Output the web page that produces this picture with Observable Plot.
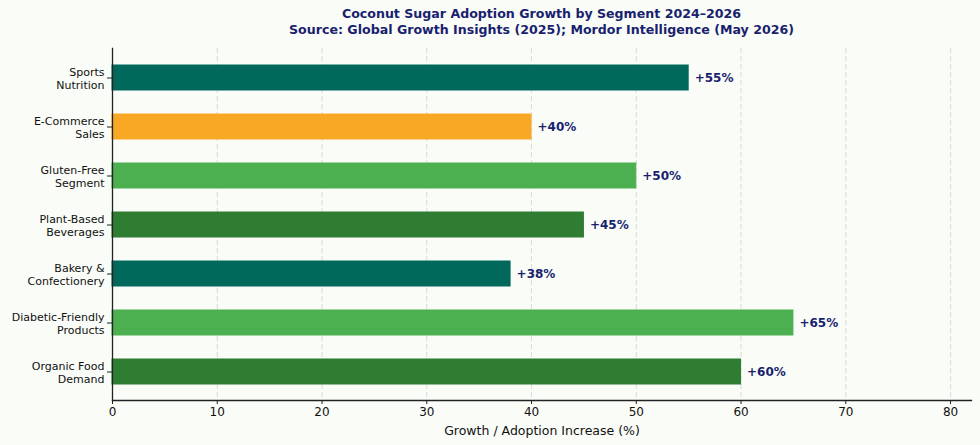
<!DOCTYPE html>
<html>
<head>
<meta charset="utf-8">
<script src="https://cdn.jsdelivr.net/npm/d3@7"></script>
<script src="https://cdn.jsdelivr.net/npm/@observablehq/plot@0.6"></script>
<style>
  html, body { margin: 0; padding: 0; background: #f9fcf7; }
  body { width: 980px; height: 445px; overflow: hidden; font-family: "DejaVu Sans", sans-serif; }
  #title { margin-left: 112px; width: 859px; height: 40px; box-sizing: border-box; padding-top: 6px;
           text-align: center; font-weight: bold; font-size: 12.6px; line-height: 16px; color: #1a1f6e; }
  #chart svg { display: block; }
</style>
</head>
<body>
<div id="title">Coconut Sugar Adoption Growth by Segment 2024–2026<br>Source: Global Growth Insights (2025); Mordor Intelligence (May 2026)</div>
<div id="chart"></div>
<script>
const categories = [
  "Organic Food\nDemand",
  "Diabetic-Friendly\nProducts",
  "Bakery &\nConfectionery",
  "Plant-Based\nBeverages",
  "Gluten-Free\nSegment",
  "E-Commerce\nSales",
  "Sports\nNutrition"
];
const values = [60, 65, 38, 45, 50, 40, 55];
const barColors = ["#2e7d32", "#4caf50", "#00695c", "#2e7d32", "#4caf50", "#f9a825", "#00695c"];
const xTicks = [0, 10, 20, 30, 40, 50, 60, 70, 80];
const xTitle = "Growth / Adoption Increase (%)";

const data = categories.map((c, i) => ({cat: c, value: values[i], color: barColors[i]}));

const chart = Plot.plot({
  width: 980,
  height: 405,
  marginTop: 8,
  marginBottom: 45,
  marginLeft: 112,
  marginRight: 9,
  style: {background: "transparent", fontFamily: "DejaVu Sans, sans-serif", color: "#111"},
  x: {domain: [0, 82]},
  y: {domain: categories.slice().reverse(), paddingInner: 0.5, paddingOuter: 0.34},
  color: {type: "identity"},
  marks: [
    Plot.gridX({ticks: xTicks.slice(1), stroke: "#c8c8c8", strokeOpacity: 0.8, strokeDasharray: "5,3", strokeWidth: 0.8}),
    Plot.barX(data, {x: "value", y: "cat", fill: "color", stroke: "color", strokeWidth: 1}),
    Plot.text(data, {x: "value", y: "cat", text: d => "+" + d.value + "%", dx: 6, textAnchor: "start",
      fontWeight: "bold", fontSize: 12, fill: "#1a1f6e"}),
    Plot.axisX({ticks: xTicks, tickSize: 4, tickPadding: 3, fontSize: 12, stroke: "#222", fill: "#111", label: null}),
    Plot.axisX({ticks: [], tickSize: 0, fontSize: 12.5, fill: "#111",
      label: xTitle, labelAnchor: "center", labelArrow: "none", labelOffset: 34}),
    Plot.axisY({tickSize: 5, tickPadding: 3, fontSize: 11, lineHeight: 1.18, stroke: "#222", fill: "#111", label: null}),
    Plot.frame({anchor: "left", stroke: "#222", strokeWidth: 1.3}),
    Plot.frame({anchor: "bottom", stroke: "#222", strokeWidth: 1.3})
  ]
});
document.getElementById("chart").appendChild(chart);
</script>
</body>
</html>
